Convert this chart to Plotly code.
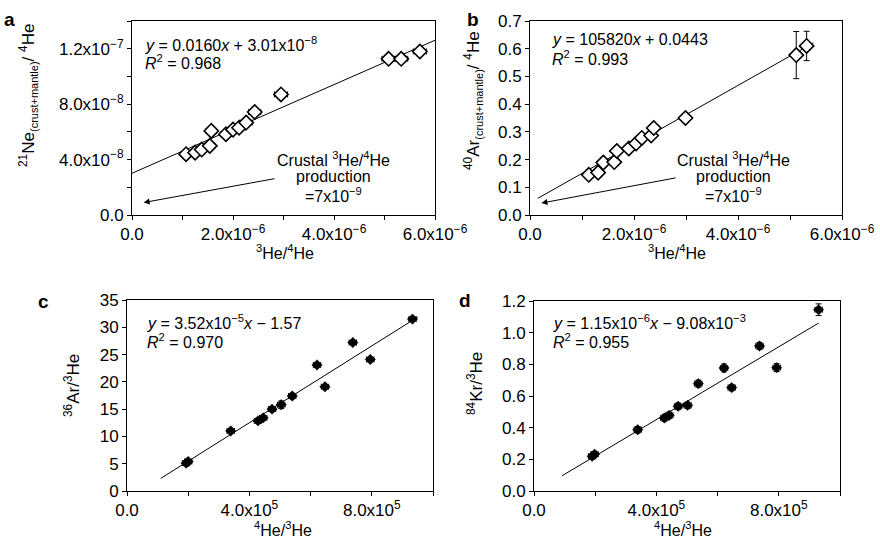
import plotly.graph_objects as go

# ---------------- data ----------------
# panel a: 3He/4He vs 21Ne(crust+mantle)/4He
a_x = [1.07e-6, 1.25e-6, 1.38e-6, 1.54e-6, 1.57e-6, 1.86e-6, 2.00e-6, 2.12e-6, 2.26e-6, 2.43e-6, 2.95e-6, 5.08e-6, 5.33e-6, 5.70e-6]
a_y = [4.39e-8, 4.50e-8, 4.72e-8, 4.99e-8, 6.07e-8, 5.83e-8, 6.16e-8, 6.30e-8, 6.67e-8, 7.43e-8, 8.70e-8, 1.127e-7, 1.127e-7, 1.18e-7]
a_xerr = [0.08e-6, 0.08e-6, 0.08e-6, 0.1e-6, 0.1e-6, 0.1e-6, 0.1e-6, 0.12e-6, 0.12e-6, 0.12e-6, 0.13e-6, 0.13e-6, 0.13e-6, 0.13e-6]
a_yerr = [1.5e-9] * 14
a_slope, a_icpt = 0.0160, 3.01e-8
a_line_x = [0.0, 6.0e-6]

# panel b: 3He/4He vs 40Ar(crust+mantle)/4He
b_x = [1.13e-6, 1.31e-6, 1.41e-6, 1.62e-6, 1.67e-6, 1.90e-6, 2.04e-6, 2.15e-6, 2.33e-6, 2.38e-6, 2.99e-6, 5.12e-6, 5.32e-6]
b_y = [0.145, 0.153, 0.189, 0.191, 0.231, 0.240, 0.258, 0.278, 0.287, 0.314, 0.350, 0.577, 0.610]
b_xerr = [0.03e-6] * 13
b_yerr = [0.008, 0.008, 0.008, 0.008, 0.008, 0.008, 0.012, 0.008, 0.01, 0.01, 0.015, 0.085, 0.053]
b_slope, b_icpt = 105820, 0.0443
b_line_x = [0.15e-6, 5.45e-6]

# panel c: 4He/3He vs 36Ar/3He
c_x = [1.93e5, 2.00e5, 3.39e5, 4.28e5, 4.45e5, 4.74e5, 5.04e5, 5.40e5, 6.21e5, 6.47e5, 7.38e5, 7.95e5, 9.33e5]
c_y = [5.1, 5.4, 11.0, 12.85, 13.4, 15.0, 15.8, 17.4, 23.1, 19.1, 27.2, 24.1, 31.5]
c_xerr = [1.2e4] * 13
c_yerr = [0.4, 0.4, 0.4, 0.4, 0.4, 0.4, 0.7, 0.5, 0.4, 0.4, 0.4, 0.4, 0.4]
c_slope, c_icpt = 3.52e-5, -1.57
c_line_x = [1.1e5, 9.5e5]

# panel d: 4He/3He vs 84Kr/3He
d_x = [1.90e5, 1.98e5, 3.39e5, 4.26e5, 4.42e5, 4.71e5, 5.02e5, 5.37e5, 6.21e5, 6.46e5, 7.37e5, 7.93e5, 9.30e5]
d_y = [0.219, 0.232, 0.387, 0.461, 0.478, 0.535, 0.541, 0.678, 0.777, 0.653, 0.916, 0.779, 1.145]
d_xerr = [1.2e4] * 13
d_yerr = [0.015, 0.015, 0.02, 0.02, 0.02, 0.02, 0.02, 0.022, 0.025, 0.02, 0.022, 0.025, 0.037]
d_slope, d_icpt = 1.15e-6, -9.08e-3
d_line_x = [0.92e5, 9.3e5]

# tick values / labels
ab_xticks = [0, 1e-6, 2e-6, 3e-6, 4e-6, 5e-6, 6e-6]
ab_xtext = ["0.0", "", "2.0x10<sup>−6</sup>", "", "4.0x10<sup>−6</sup>", "", "6.0x10<sup>−6</sup>"]
a_yticks = [0, 2e-8, 4e-8, 6e-8, 8e-8, 1e-7, 1.2e-7, 1.4e-7]
a_ytext = ["0.0", "", "4.0x10<sup>−8</sup>", "", "8.0x10<sup>−8</sup>", "", "1.2x10<sup>−7</sup>", ""]
b_yticks = [0, 0.1, 0.2, 0.3, 0.4, 0.5, 0.6, 0.7]
b_ytext = ["0.0", "0.1", "0.2", "0.3", "0.4", "0.5", "0.6", "0.7"]
cd_xticks = [0, 2e5, 4e5, 6e5, 8e5, 1e6]
cd_xtext = ["0.0", "", "4.0x10<sup>5</sup>", "", "8.0x10<sup>5</sup>", ""]
c_yticks = [0, 5, 10, 15, 20, 25, 30, 35]
c_ytext = ["0", "5", "10", "15", "20", "25", "30", "35"]
d_yticks = [0, 0.2, 0.4, 0.6, 0.8, 1.0, 1.2]
d_ytext = ["0.0", "0.2", "0.4", "0.6", "0.8", "1.0", "1.2"]

# ---------------- figure ----------------
W, H = 880, 545
FONT = "Liberation Sans, Arial, Helvetica, sans-serif"


def px(x):
    return x / W


def py(y):
    return 1 - y / H


fig = go.Figure()

panels = [
    ("x", "y", a_x, a_y, a_xerr, a_yerr, a_slope, a_icpt, a_line_x, True),
    ("x2", "y2", b_x, b_y, b_xerr, b_yerr, b_slope, b_icpt, b_line_x, True),
    ("x3", "y3", c_x, c_y, c_xerr, c_yerr, c_slope, c_icpt, c_line_x, False),
    ("x4", "y4", d_x, d_y, d_xerr, d_yerr, d_slope, d_icpt, d_line_x, False),
]

for xa, ya, xs, ys, xe, ye, m, b, lx, opn in panels:
    fig.add_trace(go.Scatter(
        x=lx, y=[m * v + b for v in lx], xaxis=xa, yaxis=ya, mode="lines",
        line=dict(color="black", width=1), showlegend=False, hoverinfo="skip"))
    if opn:
        marker = dict(symbol="diamond", size=11, color="white", line=dict(color="black", width=1.6))
    else:
        marker = dict(symbol="diamond", size=8, color="black", line=dict(color="black", width=0.5))
    fig.add_trace(go.Scatter(
        x=xs, y=ys, xaxis=xa, yaxis=ya, mode="markers", marker=marker, showlegend=False,
        error_x=dict(type="data", array=xe, color="black", thickness=1, width=3),
        error_y=dict(type="data", array=ye, color="black", thickness=1, width=3)))

axis_common = dict(showline=True, mirror=True, linecolor="black", linewidth=1,
                   ticks="outside", ticklen=4, tickcolor="black", tickwidth=1,
                   showgrid=False, zeroline=False, automargin=False,
                   tickfont=dict(family=FONT, size=17, color="black"), tickmode="array")

doms = {
    "a": ([px(132), px(435)], [py(215), py(21)]),
    "b": ([px(530), px(842)], [py(215), py(21)]),
    "c": ([px(127), px(433)], [py(491), py(300)]),
    "d": ([px(534), px(840)], [py(491), py(301)]),
}

fig.update_layout(
    width=W, height=H, margin=dict(l=0, r=0, t=0, b=0, pad=0, autoexpand=False),
    paper_bgcolor="white", plot_bgcolor="white",
    font=dict(family=FONT, size=16, color="black"),
    xaxis=dict(domain=doms["a"][0], anchor="y", range=[0, 6e-6], tickvals=ab_xticks, ticktext=ab_xtext, **axis_common),
    yaxis=dict(domain=doms["a"][1], anchor="x", range=[0, 1.4e-7], tickvals=a_yticks, ticktext=a_ytext, **axis_common),
    xaxis2=dict(domain=doms["b"][0], anchor="y2", range=[0, 6e-6], tickvals=ab_xticks, ticktext=ab_xtext, **axis_common),
    yaxis2=dict(domain=doms["b"][1], anchor="x2", range=[0, 0.7], tickvals=b_yticks, ticktext=b_ytext, **axis_common),
    xaxis3=dict(domain=doms["c"][0], anchor="y3", range=[0, 1e6], tickvals=cd_xticks, ticktext=cd_xtext, **axis_common),
    yaxis3=dict(domain=doms["c"][1], anchor="x3", range=[0, 35], tickvals=c_yticks, ticktext=c_ytext, **axis_common),
    xaxis4=dict(domain=doms["d"][0], anchor="y4", range=[0, 1e6], tickvals=cd_xticks, ticktext=cd_xtext, **axis_common),
    yaxis4=dict(domain=doms["d"][1], anchor="x4", range=[0, 1.2], tickvals=d_yticks, ticktext=d_ytext, **axis_common),
)

ann = []


def text(x, y, s, size=16, xanchor="center", angle=0, bold=False):
    if bold:
        s = "<b>" + s + "</b>"
    ann.append(dict(x=px(x), y=py(y), xref="paper", yref="paper", text=s, showarrow=False,
                    xanchor=xanchor, yanchor="middle", textangle=angle,
                    font=dict(family=FONT, size=size, color="black")))


# panel letters
text(9, 19, "a", size=19, bold=True)
text(473, 19, "b", size=19, bold=True)
text(43, 301, "c", size=19, bold=True)
text(465, 300, "d", size=19, bold=True)

# equations
text(143, 44, "<i>y</i> = 0.0160<i>x</i> + 3.01x10<sup>−8</sup>", xanchor="left")
text(143, 62, "<i>R</i><sup>2</sup> = 0.968", xanchor="left")
text(550, 39, "<i>y</i> = 105820<i>x</i> + 0.0443", xanchor="left")
text(550, 58, "<i>R</i><sup>2</sup> = 0.993", xanchor="left")
text(145, 322, "<i>y</i> = 3.52x10<sup>−5</sup><i>x</i> − 1.57", xanchor="left")
text(145, 341, "<i>R</i><sup>2</sup> = 0.970", xanchor="left")
text(551, 322, "<i>y</i> = 1.15x10<sup>−6</sup><i>x</i> − 9.08x10<sup>−3</sup>", xanchor="left")
text(551, 341, "<i>R</i><sup>2</sup> = 0.955", xanchor="left")

# crustal production notes
for cx in (333, 733):
    text(cx, 159, "Crustal <sup>3</sup>He/<sup>4</sup>He")
    text(cx, 177, "production")
    text(cx, 195, "=7x10<sup>−9</sup>")

# axis titles
text(285, 252, "<sup>3</sup>He/<sup>4</sup>He")
text(677, 252, "<sup>3</sup>He/<sup>4</sup>He")
text(283, 529, "<sup>4</sup>He/<sup>3</sup>He")
text(683, 529, "<sup>4</sup>He/<sup>3</sup>He")
SUBSZ = "<span style='font-size:11px'>(crust+mantle)</span>"
text(28, 96, "<sup>21</sup>Ne<sub>" + SUBSZ + "</sub>/ <sup>4</sup>He", size=17, angle=-90)
text(473, 101, "<sup>40</sup>Ar<sub>" + SUBSZ + "</sub>/ <sup>4</sup>He", size=17, angle=-90)
text(72, 386, "<sup>36</sup>Ar/<sup>3</sup>He", size=17, angle=-90)
text(475, 384, "<sup>84</sup>Kr/<sup>3</sup>He", size=17, angle=-90)

# arrows (data coordinates)
ann.append(dict(x=0.23e-6, y=0.9e-8, ax=2.85e-6, ay=2.64e-8, xref="x", yref="y", axref="x", ayref="y",
                text="", showarrow=True, arrowhead=2, arrowsize=1.2, arrowwidth=1, arrowcolor="black"))
ann.append(dict(x=0.22e-6, y=0.043, ax=2.83e-6, ay=0.135, xref="x2", yref="y2", axref="x2", ayref="y2",
                text="", showarrow=True, arrowhead=2, arrowsize=1.2, arrowwidth=1, arrowcolor="black"))

fig.update_layout(annotations=ann)
fig.write_html("out.html", config={"displayModeBar": False},
               post_script="document.body.style.margin='0px';")
